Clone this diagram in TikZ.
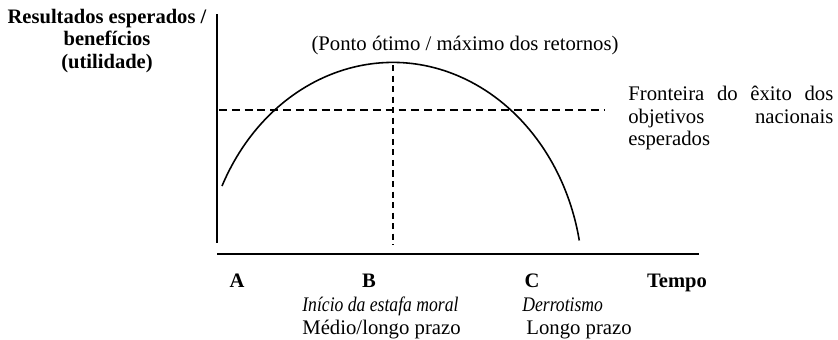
\documentclass[tikz,border=0pt]{standalone}
\usepackage{fontspec}
\setmainfont{Liberation Serif}
\newfontfamily\narrowfam{Liberation Serif}[FakeStretch=0.85]
\hyphenpenalty=10000
\exhyphenpenalty=10000
\tolerance=10000

\begin{document}
\begin{tikzpicture}[x=0.02cm,y=0.02cm,
    txt/.style={inner sep=0pt,font=\fontsize{11.8}{13}\selectfont},
    lbl/.style={inner sep=0pt,font=\fontsize{11.7}{13}\selectfont\bfseries},
    itl/.style={inner sep=0pt,font=\fontsize{11.8}{13}\narrowfam\itshape}]
    \useasboundingbox (0,0) rectangle (838,339);
    \coordinate (O) at (217,85);
    \coordinate (E) at (699,85);
    \coordinate (Y) at (217,325);
    \coordinate (Y') at (217,96);
    \coordinate (P) at (219,229);
    \coordinate (Q) at (605,229);
    \coordinate (M) at (393,274);
    \coordinate (M') at (393,94);
    \coordinate (S) at (222,153);
    \draw[line width=1.6pt] (Y) -- (Y');
    \draw[line width=1.6pt] (O) -- (E);
    \draw[line width=0.9pt,dash pattern=on 4.5pt off 2.8pt] (P) -- (Q);
    \draw[line width=0.6pt,dash pattern=on 3.5pt off 2.5pt] (M) -- (M');
    \draw[line width=0.9pt] (S) arc[start angle=154,end angle=11,x radius=190,y radius=220];
    \node[lbl,align=center] (tit) at (107,298) {Resultados esperados /\\benefícios\\(utilidade)};
    \node[txt,anchor=base] (top) at (465,289) {(Ponto ótimo / máximo dos retornos)};
    \node[txt,anchor=west,text width=4.1cm,align=justify] (fr) at (628,221)
      {Fronteira do êxito dos objetivos nacionais esperados};
    \node[lbl,anchor=base] (A) at (237,52) {A};
    \node[lbl,anchor=base] (B) at (369,52) {B};
    \node[lbl,anchor=base] (C) at (532,52) {C};
    \node[lbl,anchor=base] (T) at (677,52) {Tempo};
    \node[itl,anchor=base west] (b1) at (302,28) {Início da estafa moral};
    \node[txt,anchor=base west] (b2) at (302,5) {Médio/longo prazo};
    \node[itl,anchor=base west] (c1) at (522,28) {Derrotismo};
    \node[txt,anchor=base west] (c2) at (526,5) {Longo prazo};
\end{tikzpicture}
\end{document}
